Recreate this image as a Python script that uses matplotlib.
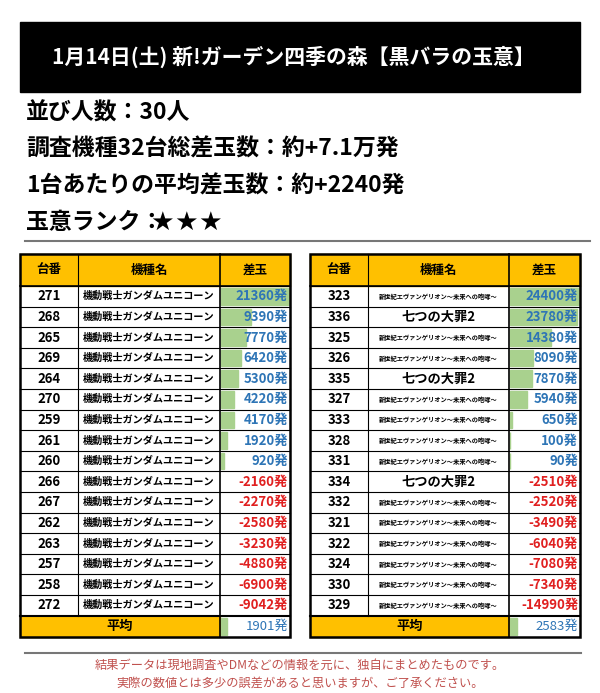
import matplotlib
matplotlib.use("Agg")
import matplotlib.pyplot as plt
from matplotlib.patches import Rectangle

plt.rcParams['font.family'] = ['Noto Sans CJK JP', 'DejaVu Sans']

title = "1月14日(土) 新!ガーデン四季の森【黒バラの玉意】"
info = ["並び人数：30人", "調査機種32台総差玉数：約+7.1万発", "1台あたりの平均差玉数：約+2240発", "玉意ランク："]
headers = ["台番", "機種名", "差玉"]
gundam = "機動戦士ガンダムユニコーン"
eva = "新世紀エヴァンゲリオン～未来への咆哮～"
nanatsu = "七つの大罪2"
left_ids = [271, 268, 265, 269, 264, 270, 259, 261, 260, 266, 267, 262, 263, 257, 258, 272]
left_names = [gundam] * 16
left_vals = [21360, 9390, 7770, 6420, 5300, 4220, 4170, 1920, 920, -2160, -2270, -2580, -3230, -4880, -6900, -9042]
left_avg = 1901
right_ids = [323, 336, 325, 326, 335, 327, 333, 328, 331, 334, 332, 321, 322, 324, 330, 329]
right_names = [eva, nanatsu, eva, eva, nanatsu, eva, eva, eva, eva, nanatsu, eva, eva, eva, eva, eva, eva]
right_vals = [24400, 23780, 14380, 8090, 7870, 5940, 650, 100, 90, -2510, -2520, -3490, -6040, -7080, -7340, -14990]
right_avg = 2583
footer = ["結果データは現地調査やDMなどの情報を元に、独自にまとめたものです。",
          "実際の数値とは多少の誤差があると思いますが、ご了承ください。"]

fig = plt.figure(figsize=(6, 6.93), dpi=100)
ax = fig.add_axes([0, 0, 1, 1])
ax.set_xlim(0, 600); ax.set_ylim(693, 0); ax.axis('off')

ax.add_patch(Rectangle((20, 22), 560, 70, color='black'))
ax.text(293, 57, title, color='white', fontsize=15, fontweight='bold', ha='center', va='center')
for i, t in enumerate(info):
    ax.text(26, 113 + i * 36.5, t, fontsize=16.5, fontweight='bold', ha='left', va='center')
for k in range(3):
    ax.text(162 + k * 24, 223, "★", fontsize=19, ha='center', va='center', family=['DejaVu Sans'])
ax.plot([25, 590], [241, 241], color='#777777', lw=1.5)

GOLD = '#ffc000'; GREEN = '#a9d18e'; BLUE = '#2e75b6'; RED = '#e02020'
top, hh, rh = 254, 32, 20.6

def table(x0, x1, x2, x3, ids, names, vals, avg):
    ax.add_patch(Rectangle((x0, top), x3 - x0, hh, color=GOLD))
    for (a, b), h in zip([(x0, x1), (x1, x2), (x2, x3)], headers):
        ax.text((a + b) / 2, top + hh / 2, h, fontsize=9, fontweight='bold', ha='center', va='center')
    vmax = max(vals)
    cw = x3 - x2 - 2
    for i, (d, n, v) in enumerate(zip(ids, names, vals)):
        y = top + hh + i * rh
        if v > 0:
            ax.add_patch(Rectangle((x2 + 1, y + 2), cw * v / vmax, rh - 4, color=GREEN))
        ax.text((x0 + x1) / 2, y + rh / 2, str(d), fontsize=9.5, fontweight='bold', ha='center', va='center')
        small = n == eva
        ax.text((x1 + x2) / 2, y + rh / 2, n, fontsize=4.5 if small else (7.3 if n == gundam else 9.5),
                fontweight='bold', ha='center', va='center')
        ax.text(x3 - 2, y + rh / 2, f"{v}発", fontsize=9.5, fontweight='bold',
                color=BLUE if v > 0 else RED, ha='right', va='center')
        ax.plot([x0, x3], [y, y], color='black', lw=0.8)
    ya = top + hh + 16 * rh
    ax.plot([x0, x3], [ya, ya], color='black', lw=1.5)
    ax.add_patch(Rectangle((x0, ya), x2 - x0, rh + 1, color=GOLD))
    ax.add_patch(Rectangle((x2 + 1, ya + 2), cw * avg / vmax, rh - 3, color=GREEN))
    ax.text((x0 + x2) / 2, ya + rh / 2, "平均", fontsize=9.5, fontweight='bold', ha='center', va='center')
    ax.text(x3 - 2, ya + rh / 2, f"{avg}発", fontsize=9.5, color=BLUE, ha='right', va='center')
    yb = ya + rh + 1
    ax.plot([x1, x1], [top, ya], color='black', lw=0.8)
    ax.plot([x2, x2], [top, yb], color='black', lw=1.2)
    ax.add_patch(Rectangle((x0, top), x3 - x0, yb - top, fill=False, ec='black', lw=1.8))
    ax.plot([x0, x3], [top + hh, top + hh], color='black', lw=1.2)

table(20, 78, 220, 290, left_ids, left_names, left_vals, left_avg)
table(310, 368, 509, 580, right_ids, right_names, right_vals, right_avg)

ax.plot([25, 581], [653, 653], color='#777777', lw=1.5)
for i, t in enumerate(footer):
    ax.text(300, 665 + i * 18, t, fontsize=8.8, color='#c0504d', ha='center', va='center')

fig.savefig("out.png", dpi=100)
